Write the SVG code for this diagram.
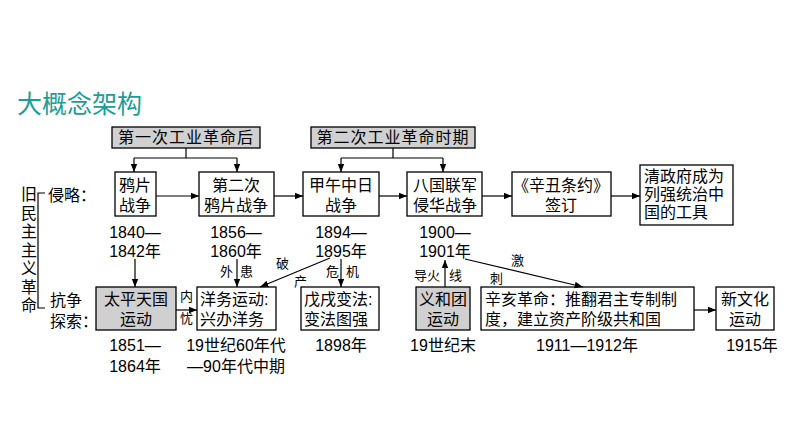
<svg xmlns="http://www.w3.org/2000/svg" width="794" height="447" viewBox="0 0 794 447">
<defs>
<marker id="a" viewBox="0 0 10 10" refX="10" refY="5" markerWidth="7" markerHeight="7" orient="auto-start-reverse"><path d="M0,1 L10,5 L0,9 z" fill="#000"/></marker>
<style>
text{font-family:"Liberation Sans","Noto Sans CJK SC",sans-serif;font-size:16px;fill:#000}
.t{font-size:25px;fill:#1a9e96}
.s{font-size:13px}
.m{text-anchor:middle}
.b{fill:#fff;stroke:#000;stroke-width:1.3}
.g{fill:#d0d0d0;stroke:#000;stroke-width:1.3}
.c line,.c path{stroke:#000;stroke-width:1.2;fill:none}
</style>
</defs>
<rect width="794" height="447" fill="#fff"/>
<text class="t" x="17" y="113">大概念架构</text>
<g id="h1"><rect class="g" x="112" y="127" width="148" height="21"/><text class="m" x="186" y="143" letter-spacing="1">第一次工业革命后</text></g>
<g id="h2"><rect class="g" x="311" y="127" width="164" height="21"/><text class="m" x="393" y="143" letter-spacing="1">第二次工业革命时期</text></g>
<g id="side"><text x="21" y="200">旧</text><text x="21" y="218.5">民</text><text x="21" y="237">主</text><text x="21" y="255.5">主</text><text x="21" y="274">义</text><text x="21" y="292.5">革</text><text x="21" y="311">命</text>
<path d="M45,193 H38 V308 H45" stroke="#000" fill="none" stroke-width="1.2"/>
<text x="48" y="201">侵略：</text><text x="50" y="306">抗争</text><text x="50" y="327">探索：</text></g>
<g id="n1"><rect class="b" x="115" y="172" width="41" height="44"/><text class="m" x="135" y="191">鸦片</text><text class="m" x="135" y="211">战争</text></g>
<g id="n2"><rect class="b" x="199" y="172" width="75" height="44"/><text class="m" x="236" y="191">第二次</text><text class="m" x="236" y="211">鸦片战争</text></g>
<g id="n3"><rect class="b" x="303" y="172" width="76" height="44"/><text class="m" x="341" y="191">甲午中日</text><text class="m" x="341" y="211">战争</text></g>
<g id="n4"><rect class="b" x="407" y="172" width="75" height="44"/><text class="m" x="445" y="191">八国联军</text><text class="m" x="445" y="211">侵华战争</text></g>
<g id="n5"><rect class="b" x="512" y="172" width="99" height="44"/><text class="m" x="561" y="191">《辛丑条约》</text><text class="m" x="561" y="211">签订</text></g>
<g id="n6"><rect class="b" x="640" y="165" width="93" height="60"/><text x="644" y="182">清政府成为</text><text x="644" y="200">列强统治中</text><text x="644" y="218">国的工具</text></g>
<g id="d1"><text class="m" x="135" y="238">1840—</text><text class="m" x="135" y="257">1842年</text>
<text class="m" x="236" y="238">1856—</text><text class="m" x="236" y="257">1860年</text>
<text class="m" x="341" y="238">1894—</text><text class="m" x="341" y="257">1895年</text>
<text class="m" x="445" y="238">1900—</text><text class="m" x="445" y="257">1901年</text></g>
<g id="m1"><rect class="g" x="96" y="287" width="80" height="43"/><text class="m" x="136" y="305">太平天国</text><text class="m" x="136" y="325">运动</text></g>
<g id="m2"><rect class="b" x="197" y="287" width="79" height="43"/><text x="200" y="305">洋务运动:</text><text x="200" y="325">兴办洋务</text></g>
<g id="m3"><rect class="b" x="301" y="287" width="78" height="43"/><text x="304" y="305">戊戌变法:</text><text x="304" y="325">变法图强</text></g>
<g id="m4"><rect class="g" x="416" y="287" width="54" height="43"/><text class="m" x="443" y="305">义和团</text><text class="m" x="443" y="325">运动</text></g>
<g id="m5"><rect class="b" x="481" y="287" width="213" height="43"/><text x="485" y="305">辛亥革命：推翻君主专制制</text><text x="485" y="325">度，建立资产阶级共和国</text></g>
<g id="m6"><rect class="b" x="716" y="287" width="58" height="43"/><text class="m" x="745" y="305">新文化</text><text class="m" x="745" y="325">运动</text></g>
<g id="d2"><text class="m" x="135" y="351">1851—</text><text class="m" x="135" y="372">1864年</text>
<text class="m" x="236" y="351">19世纪60年代</text><text class="m" x="236" y="372">—90年代中期</text>
<text class="m" x="341" y="351">1898年</text><text class="m" x="443" y="351">19世纪末</text>
<text class="m" x="587" y="351">1911—1912年</text><text class="m" x="752" y="351">1915年</text></g>
<g id="lbl"><text class="s" x="180" y="301">内</text><text class="s" x="180" y="323">忧</text>
<text class="s" x="220" y="276">外</text><text class="s" x="240" y="276">患</text>
<text class="s" x="276" y="268">破</text><text class="s" x="294" y="286">产</text>
<text class="s" x="326" y="276">危</text><text class="s" x="346" y="276">机</text>
<text class="s" x="414" y="280">导火</text><text class="s" x="449" y="280">线</text>
<text class="s" x="511" y="265">激</text><text class="s" x="490" y="283">刺</text></g>
<g class="c" id="connectors">
<path d="M186,148 V158 M134,158 H237 M393,148 V158 M341,158 H443"/>
<line x1="134" y1="158" x2="134" y2="172" marker-end="url(#a)"/>
<line x1="237" y1="158" x2="237" y2="172" marker-end="url(#a)"/>
<line x1="341" y1="158" x2="341" y2="172" marker-end="url(#a)"/>
<line x1="443" y1="158" x2="443" y2="172" marker-end="url(#a)"/>
<line x1="156" y1="196" x2="199" y2="196" marker-end="url(#a)"/>
<line x1="274" y1="196" x2="303" y2="196" marker-end="url(#a)"/>
<line x1="379" y1="196" x2="407" y2="196" marker-end="url(#a)"/>
<line x1="482" y1="196" x2="512" y2="196" marker-end="url(#a)"/>
<line x1="611" y1="196" x2="640" y2="196" marker-end="url(#a)"/>
<line x1="135" y1="259" x2="135" y2="287" marker-end="url(#a)"/>
<line x1="237" y1="259" x2="237" y2="287" marker-end="url(#a)"/>
<line x1="341" y1="259" x2="341" y2="287" marker-end="url(#a)"/>
<line x1="330" y1="258" x2="260" y2="287" marker-end="url(#a)"/>
<line x1="176" y1="310" x2="197" y2="310" marker-end="url(#a)"/>
<line x1="445" y1="287" x2="445" y2="260" marker-end="url(#a)"/>
<line x1="465" y1="259" x2="583" y2="287" marker-end="url(#a)"/>
<line x1="694" y1="310" x2="716" y2="310" marker-end="url(#a)"/>
</g>
</svg>
